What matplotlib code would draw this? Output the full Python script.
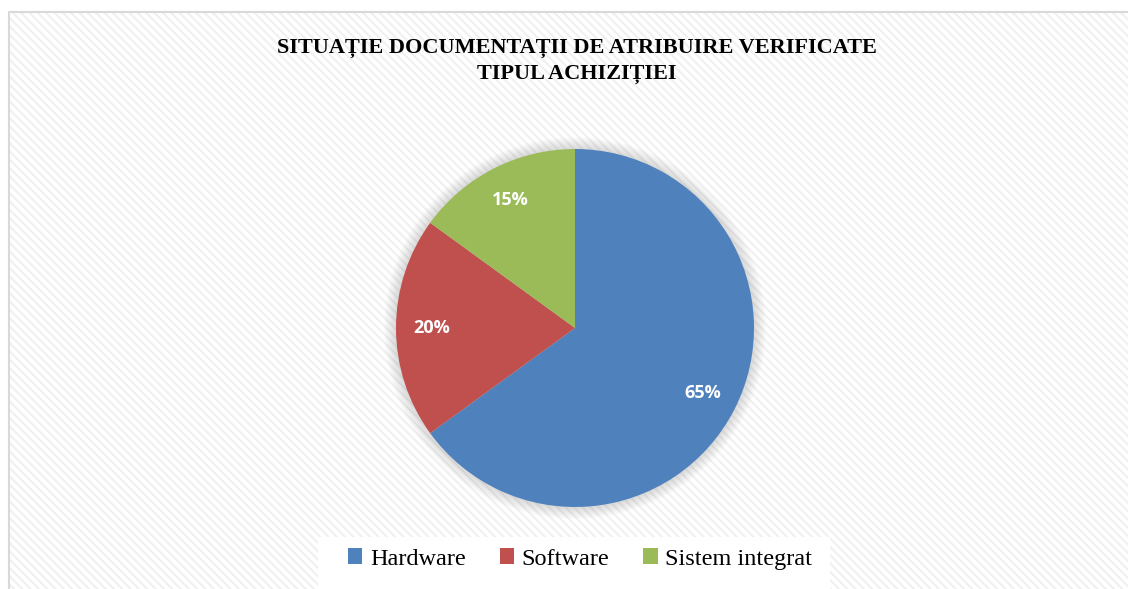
import matplotlib.pyplot as plt
from matplotlib.patches import Rectangle, Circle

# data
categories = ['Hardware', 'Software', 'Sistem integrat']
shares = [65, 20, 15]
colors = ['#4F81BD', '#C0504D', '#9BBB59']
title = 'SITUAȚIE DOCUMENTAȚII DE ATRIBUIRE VERIFICATE\nTIPUL ACHIZIȚIEI'

W, H = 1128, 589
plt.rcParams['hatch.linewidth'] = 1.5

fig = plt.figure(figsize=(W / 100, H / 100), dpi=100)
ax = fig.add_axes([0, 0, 1, 1])

# chart area with diagonal stripes
ax.add_patch(Rectangle((9, -5), W, H - 12 + 5, facecolor='white',
                       edgecolor='none', lw=0, zorder=0))
ax.add_patch(Rectangle((9, -5), W, H - 12 + 5, facecolor='none',
                       edgecolor='#F0F0F0', lw=0, hatch='\\\\\\\\', zorder=0.5))
ax.add_patch(Rectangle((9, -5), W, H - 12 + 5, facecolor='none',
                       edgecolor='#D9D9D9', lw=1.5, zorder=0.6))

cx, cy, r = 575, H - 328, 179

# soft shadow around the pie
for i in range(12):
    ax.add_patch(Circle((cx, cy), r + 12 - i, color='#888888',
                        alpha=0.025, lw=0, zorder=1))

wedges, texts, autotexts = ax.pie(
    shares, colors=colors, startangle=90, counterclock=False,
    center=(cx, cy), radius=r, autopct='%d%%', pctdistance=0.8,
    textprops=dict(color='white', fontsize=13, fontweight='bold',
                   family='Open Sans'),
    wedgeprops=dict(linewidth=0), frame=True)
ax.set_xlim(0, W)
ax.set_ylim(0, H)
ax.axis('off')
for w in wedges:
    w.set_zorder(2)
for t in autotexts:
    t.set_zorder(3)

ax.text(577, H - 61, title, ha='center', va='center', fontsize=16,
        fontweight='bold', family='Liberation Serif', linespacing=1.35,
        zorder=4)

# legend
ax.add_patch(Rectangle((318, 0), 512, 52, facecolor='white', lw=0, zorder=3))
leg = fig.legend(wedges, categories, loc='center', bbox_to_anchor=(580 / W, 1 - 559 / H),
                 ncol=3, frameon=False, handlelength=0.6, handleheight=0.6,
                 handletextpad=0.3, columnspacing=1.4,
                 prop=dict(family='Liberation Serif', size=17.5))

fig.savefig('out.png', dpi=100)
